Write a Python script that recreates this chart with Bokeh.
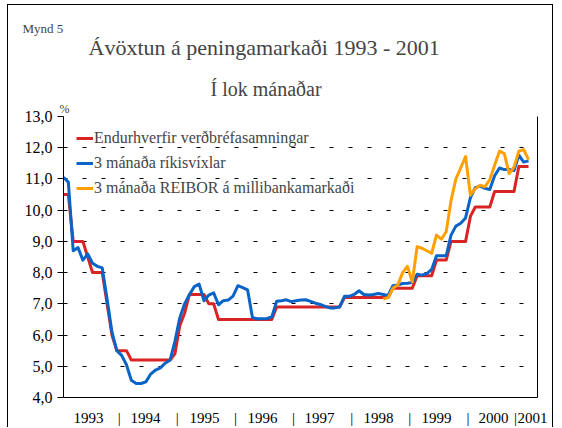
from bokeh.plotting import figure
from bokeh.models import Range1d, FixedTicker, LinearAxis, Legend, LegendItem, Title
from bokeh.embed import file_html
from bokeh.resources import INLINE

# Monthly index: 0 = Jan 1993 ... 96 = Jan 2001
months = list(range(97))

# Endurhverfir verðbréfasamningar (repo rate)
repo = [10.5, 10.5, 9.0, 9.0, 9.0, 8.5, 8.0, 8.0, 8.0, 7.0, 6.0, 5.5,
        5.5, 5.5, 5.2, 5.2, 5.2, 5.2, 5.2, 5.2, 5.2, 5.2, 5.2, 5.4,
        6.3, 6.7, 7.3, 7.3, 7.3, 7.3, 7.0, 7.0, 6.5, 6.5, 6.5, 6.5,
        6.5, 6.5, 6.5, 6.5, 6.5, 6.5, 6.5, 6.5, 6.9, 6.9, 6.9, 6.9,
        6.9, 6.9, 6.9, 6.9, 6.9, 6.9, 6.9, 6.9, 6.9, 6.9, 7.2, 7.2,
        7.2, 7.2, 7.2, 7.2, 7.2, 7.2, 7.2, 7.2, 7.5, 7.5, 7.5, 7.5,
        7.5, 7.9, 7.9, 7.9, 7.9, 8.4, 8.4, 8.4, 9.0, 9.0, 9.0, 9.0,
        9.8, 10.1, 10.1, 10.1, 10.1, 10.6, 10.6, 10.6, 10.6, 10.6, 11.4, 11.4,
        11.4]

# 3 mánaða ríkisvíxlar (3-month treasury bills)
bills = [11.05, 10.9, 8.7, 8.8, 8.4, 8.6, 8.3, 8.2, 8.15, 7.15, 6.1, 5.5,
         5.35, 5.05, 4.55, 4.45, 4.45, 4.5, 4.75, 4.88, 4.95, 5.1, 5.2, 5.8,
         6.55, 7.0, 7.3, 7.55, 7.63, 7.1, 7.28, 7.35, 6.97, 7.1, 7.12, 7.25,
         7.58, 7.52, 7.45, 6.56, 6.52, 6.52, 6.53, 6.58, 7.08, 7.1, 7.13, 7.07,
         7.1, 7.12, 7.13, 7.08, 7.02, 6.98, 6.92, 6.87, 6.87, 6.9, 7.24, 7.24,
         7.3, 7.42, 7.3, 7.28, 7.3, 7.33, 7.3, 7.27, 7.58, 7.6, 7.65, 7.66,
         7.68, 7.95, 7.92, 7.97, 8.1, 8.54, 8.54, 8.54, 9.2, 9.49, 9.58, 9.75,
         10.4, 10.72, 10.77, 10.7, 10.66, 11.1, 11.35, 11.3, 11.3, 11.27, 11.76, 11.54,
         11.58]

# 3 mánaða REIBOR á millibankamarkaði (from month index 66)
reibor_months = months[66:]
reibor = [7.15, 7.2, 7.5, 7.6, 8.0, 8.2, 7.7, 8.83, 8.78, 8.7, 8.62, 9.2,
          9.07, 9.31, 10.3, 11.0, 11.35, 11.72, 10.48, 10.69, 10.8, 10.75, 10.98, 11.44,
          11.89, 11.81, 11.17, 11.38, 11.89, 11.94, 11.62]

y_ticks = [4, 5, 6, 7, 8, 9, 10, 11, 12, 13]
y_tick_labels = ["4,0", "5,0", "6,0", "7,0", "8,0", "9,0", "10,0", "11,0", "12,0", "13,0"]

year_labels = ["1993", "1994", "1995", "1996", "1997", "1998", "1999", "2000", "2001"]
year_label_pos = [5.16, 16.93, 29.1, 41.08, 52.85, 65.03, 77.0, 88.77, 96.82]
separator_pos = [11.5, 23.5, 35.5, 47.5, 59.5, 71.5, 83.5, 93.3]

series_names = ["Endurhverfir verðbréfasamningar", "3 mánaða ríkisvíxlar",
                "3 mánaða REIBOR á millibankamarkaði"]
series_colors = ["#d82424", "#0a64c8", "#ffa000"]

FONT = "serif"

p = figure(width=546, height=423, x_range=Range1d(0, 97.85), y_range=Range1d(4, 13),
           output_backend="svg", toolbar_location=None,
           min_border_left=55, min_border_right=17, min_border_top=111, min_border_bottom=30,
           outline_line_color=None, background_fill_color="white", border_fill_color="white",
           styles={"margin-top": "4px", "margin-left": "7px",
                   "border-top": "1px solid #000", "border-left": "1px solid #000",
                   "border-right": "1px solid #000"})

# y axis
yt = FixedTicker(ticks=y_ticks)
yaxis = p.yaxis[0]
yaxis.ticker = yt
yaxis.major_label_overrides = {t: l for t, l in zip(y_ticks, y_tick_labels)}
yaxis.major_tick_out = 6
yaxis.major_tick_in = 0
yaxis.minor_tick_out = 0
yaxis.minor_tick_in = 0
yaxis.major_label_standoff = 5
yaxis.major_label_text_font = FONT
yaxis.major_label_text_font_size = "16px"
yaxis.major_label_text_color = "black"
yaxis.axis_line_color = "black"
yaxis.major_tick_line_color = "black"

# x axis
xticks = year_label_pos + separator_pos
xlabels = year_labels + ["|"] * len(separator_pos)
xaxis = p.xaxis[0]
xaxis.ticker = FixedTicker(ticks=xticks)
xaxis.major_label_overrides = {t: l for t, l in zip(xticks, xlabels)}
xaxis.major_tick_out = 0
xaxis.major_tick_in = 0
xaxis.minor_tick_out = 0
xaxis.minor_tick_in = 0
xaxis.major_label_standoff = 12
xaxis.major_label_text_font = FONT
xaxis.major_label_text_font_size = "15px"
xaxis.major_label_text_color = "black"
xaxis.axis_line_color = "black"

# right border of the plot area
raxis = LinearAxis(ticker=FixedTicker(ticks=[]), major_tick_out=0, major_tick_in=0,
                   minor_tick_out=0, minor_tick_in=0, axis_line_color="black",
                   major_label_text_font_size="0px")
p.add_layout(raxis, "right")

# grid
p.xgrid.visible = False
p.ygrid.ticker = yt
p.ygrid.grid_line_color = "black"
p.ygrid.grid_line_dash = "4 15"
p.ygrid.grid_line_width = 1

r1 = p.line(months, repo, line_color=series_colors[0], line_width=3, line_join="round")
r2 = p.line(months, bills, line_color=series_colors[1], line_width=3, line_join="round")
r3 = p.line(reibor_months, reibor, line_color=series_colors[2], line_width=3, line_join="round")

legend = Legend(items=[LegendItem(label=series_names[0], renderers=[r1]),
                       LegendItem(label=series_names[1], renderers=[r2]),
                       LegendItem(label=series_names[2], renderers=[r3])],
                location="top_left", label_text_font=FONT, label_text_font_size="16px",
                glyph_width=17, glyph_height=16, label_height=16, label_standoff=1,
                spacing=7, padding=0, margin=13, border_line_color=None,
                background_fill_alpha=0)
p.add_layout(legend)

# titles, stacked outward from the plot area
p.add_layout(Title(text="%", align="left", offset=-4, standoff=1, text_font=FONT,
                   text_font_size="12px", text_font_style="normal"), "above")
p.add_layout(Title(text="Í lok mánaðar", align="left", offset=147, standoff=0, text_font=FONT,
                   text_font_size="20px", text_font_style="normal"), "above")
p.add_layout(Title(text=" ", align="left", offset=0, standoff=0, text_font=FONT,
                   text_font_size="12px", text_font_style="normal"), "above")
p.add_layout(Title(text="Ávöxtun á peningamarkaði 1993 - 2001", align="left", offset=25,
                   standoff=0, text_font=FONT, text_font_size="22px",
                   text_font_style="normal"), "above")
p.add_layout(Title(text="Mynd 5", align="left", offset=-41, standoff=-6, text_font=FONT,
                   text_font_size="13px", text_font_style="normal"), "above")

open("out.html", "w").write(file_html(p, INLINE))
